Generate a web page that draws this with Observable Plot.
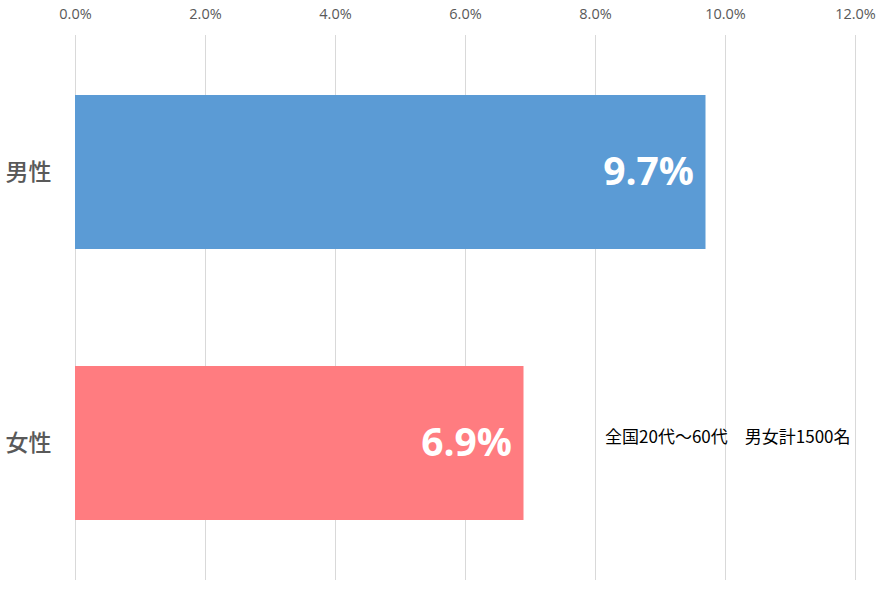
<!DOCTYPE html>
<html><head><meta charset="utf-8">
<script src="https://cdn.jsdelivr.net/npm/d3@7"></script>
<script src="https://cdn.jsdelivr.net/npm/@observablehq/plot@0.6"></script>
<style>
body{margin:0;background:#fff;}
</style>
</head><body>
<div id="chart"></div>
<script>
const categories = ["男性", "女性"];
const values = [9.7, 6.9];
const colors = ["#5B9BD5", "#FF7C80"];
const xTicks = [0, 2, 4, 6, 8, 10, 12];
const note = "全国20代〜60代　男女計1500名";

const data = categories.map((c, i) => ({cat: c, value: values[i], color: colors[i]}));

const chart = Plot.plot({
  width: 882,
  height: 595,
  marginLeft: 75,
  marginRight: 27,
  marginTop: 35,
  marginBottom: 15,
  style: {fontFamily: "'Open Sans','Noto Sans CJK JP',sans-serif", background: "#fff"},
  x: {domain: [0, 12], label: null},
  y: {domain: categories, paddingInner: 0.432, paddingOuter: 0.22, label: null},
  marks: [
    Plot.ruleX(xTicks, {stroke: "#d9d9d9", strokeWidth: 1}),
    Plot.axisX(xTicks, {anchor: "top", label: null, tickSize: 0, tickPadding: 17, tickFormat: d => d.toFixed(1) + "%", fontSize: 14.5, fill: "#595959", fontFamily: "'Open Sans',sans-serif"}),
    Plot.axisY({tickSize: 0, tickPadding: 24, fontSize: 23, fill: "#595959", fontFamily: "'Noto Sans CJK JP',sans-serif", fontWeight: 500, label: null}),
    Plot.barX(data, {x: "value", y: "cat", fill: "color"}),
    Plot.text(data, {x: "value", y: "cat", text: d => d.value.toFixed(1) + "%", textAnchor: "end", dx: -12, fill: "#fff", fontSize: 39, fontWeight: "bold", fontFamily: "'Open Sans',sans-serif"}),
    Plot.text([note], {frameAnchor: "right", y: () => "女性", text: d => d, textAnchor: "end", dx: -5, dy: -6, fill: "#000", fontSize: 17, fontFamily: "'Noto Sans CJK JP',sans-serif"})
  ]
});
document.getElementById("chart").appendChild(chart);
</script>
</body></html>
